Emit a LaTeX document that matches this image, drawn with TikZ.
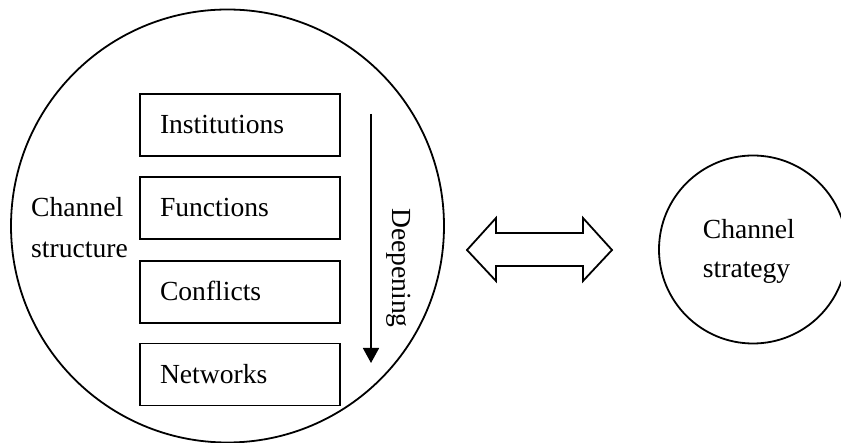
\documentclass[tikz,border=0pt]{standalone}
\usepackage{fontspec}
\setmainfont{Liberation Serif}
\usetikzlibrary{arrows.meta}
\begin{document}
\begin{tikzpicture}[x=1pt,y=-1pt,
  outline/.style={draw=black,line width=1.8pt},
  ring/.style={outline,circle,inner sep=0pt},
  layer/.style={outline,minimum height=62pt,text width=160pt,inner xsep=20pt,
    inner ysep=0pt,align=left,text height=18pt,text depth=0pt,
    font=\fontsize{27.6}{33}\selectfont},
  caption/.style={inner sep=0pt,align=left,anchor=west}]
\useasboundingbox (0,0) rectangle (841,443);

% outer circle: channel structure
\node[ring,minimum size=433pt] (structure) at (227.5,226) {};
\node[caption,font=\fontsize{27.6}{41}\selectfont] (structlabel) at (31,228)
  {Channel\\structure};

% stacked layers
\node[layer] (inst) at (240,125)   {Institutions};
\node[layer] (func) at (240,208)   {Functions};
\node[layer] (conf) at (240,292)   {Conflicts};
\node[layer] (netw) at (240,374.5) {Networks};

% deepening arrow
\coordinate (deepA) at (371,114);
\coordinate (deepB) at (371,363);
\draw[line width=1.6pt,-{Triangle[length=15pt,width=16pt]}] (deepA) -- (deepB);
\node[inner sep=0pt,rotate=-90,anchor=base,font=\fontsize{27.6}{33}\selectfont]
  (deeplabel) at (392,268) {Deepening};

% two-headed block arrow
\draw[outline,line join=miter] (467,250) -- (496,218) -- (496,233) -- (583,233)
  -- (583,218) -- (612,250) -- (583,281) -- (583,266) -- (496,266)
  -- (496,281) -- cycle;

% channel strategy circle
\node[ring,minimum size=188pt] (strategy) at (753,249.5) {};
\node[caption,font=\fontsize{27.6}{39}\selectfont] (stratlabel) at (702.7,251)
  {Channel\\strategy};
\end{tikzpicture}
\end{document}
